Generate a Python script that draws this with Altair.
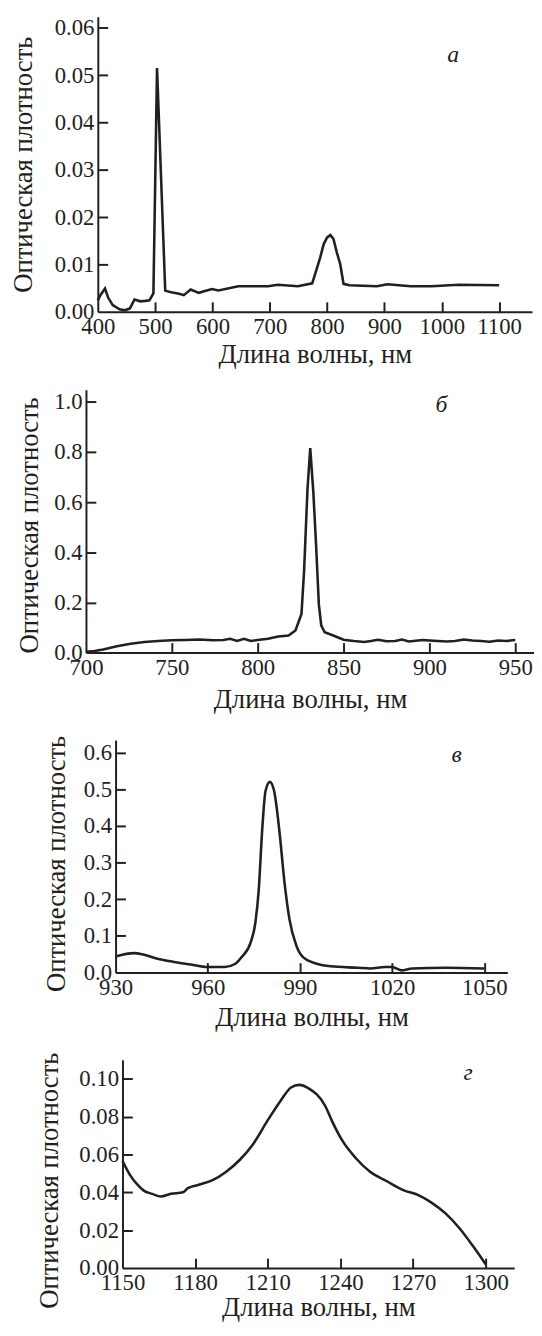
import altair as alt
import pandas as pd

FONT = "'Liberation Serif', 'Times New Roman', serif"
INK = "#231f20"
XTITLE = "Длина волны, нм"
YTITLE = "Оптическая плотность"

# ---- panel а ----
a_wl = [400, 405, 412.6, 418, 426, 438, 447, 456, 464, 474, 483, 490, 497, 503.3, 517.6, 528,
        541.7, 550, 562, 576, 599, 610.5, 645, 697, 714, 749, 774, 788, 794, 800, 805.6, 811,
        817, 822.8, 828.6, 839, 887, 905, 946, 982, 1030, 1100]
a_od = [0.0024, 0.0036, 0.0049, 0.0030, 0.0014, 0.0005, 0.0003, 0.0007, 0.0026, 0.0022, 0.0023,
        0.0024, 0.0039, 0.0515, 0.0045, 0.0041, 0.0038, 0.0035, 0.0047, 0.0040, 0.0048, 0.0045,
        0.0054, 0.0054, 0.0057, 0.0054, 0.0060, 0.0115, 0.0143, 0.0157, 0.0162, 0.0154, 0.0125,
        0.0101, 0.0059, 0.0056, 0.0054, 0.0058, 0.0054, 0.0054, 0.0057, 0.0056]
a_xlabels = [400, 500, 600, 700, 800, 900, 1000, 1100]
a_ylabels = [0.00, 0.01, 0.02, 0.03, 0.04, 0.05, 0.06]

# ---- panel б ----
b_wl = [700, 705, 710, 718, 726, 734, 742, 750, 758, 766, 774, 780, 784, 788, 792, 796, 800, 806,
        812, 818, 822, 825.5, 827, 829, 830.6, 832.4, 834, 835.6, 837, 839, 844, 850, 856, 862,
        866, 870, 875, 880, 884, 888, 892, 896, 900, 905, 910, 915, 920, 925, 930, 935, 940, 945, 950]
b_od = [0.003, 0.006, 0.012, 0.025, 0.035, 0.042, 0.046, 0.049, 0.050, 0.052, 0.049, 0.050, 0.055,
        0.046, 0.055, 0.046, 0.050, 0.055, 0.064, 0.068, 0.088, 0.154, 0.324, 0.652, 0.816, 0.640,
        0.430, 0.193, 0.108, 0.081, 0.068, 0.051, 0.046, 0.042, 0.046, 0.051, 0.045, 0.046, 0.052,
        0.044, 0.047, 0.050, 0.048, 0.046, 0.044, 0.046, 0.052, 0.048, 0.046, 0.043, 0.048, 0.046, 0.050]
b_xlabels = [700, 750, 800, 850, 900, 950]
b_ylabels = [0.0, 0.2, 0.4, 0.6, 0.8, 1.0]

# ---- panel в ----
c_wl = [930, 936, 939, 943, 949, 954.5, 960, 965.5, 969, 971, 974, 975.5, 976.6, 977.7, 978.8,
        980.2, 981.6, 983.3, 985, 986.6, 988.8, 991, 995.5, 1000, 1008.8, 1013, 1017.6, 1020,
        1023, 1026.5, 1037.6, 1050]
c_od = [0.044, 0.053, 0.049, 0.039, 0.029, 0.022, 0.015, 0.015, 0.024, 0.042, 0.083, 0.136, 0.226,
        0.387, 0.495, 0.520, 0.495, 0.387, 0.244, 0.145, 0.074, 0.042, 0.024, 0.017, 0.013, 0.011,
        0.015, 0.015, 0.006, 0.011, 0.013, 0.011]
c_xlabels = [930, 960, 990, 1020, 1050]
c_ylabels = [0.0, 0.1, 0.2, 0.3, 0.4, 0.5, 0.6]

# ---- panel г ----
d_wl = [1150, 1153, 1156, 1158.8, 1162.3, 1165.8, 1170, 1175, 1177, 1181.5, 1187, 1192.7, 1198.4,
        1204, 1209.7, 1215.4, 1219.6, 1223, 1226.7, 1233.8, 1236.6, 1240.8, 1246.5, 1252, 1259,
        1266, 1272.6, 1277.6, 1283.3, 1289, 1294.6, 1300]
d_od = [0.0567, 0.0494, 0.0443, 0.0409, 0.0392, 0.0378, 0.0392, 0.0400, 0.0422, 0.0440, 0.0463,
        0.0508, 0.0571, 0.0656, 0.0775, 0.0886, 0.0954, 0.0968, 0.0951, 0.0855, 0.0775, 0.0673,
        0.0579, 0.0511, 0.0460, 0.0412, 0.0383, 0.0346, 0.0290, 0.0213, 0.0119, 0.0020]
d_xlabels = [1150, 1180, 1210, 1240, 1270, 1300]
d_ylabels = [0.00, 0.02, 0.04, 0.06, 0.08, 0.10]

letters = ["а", "б", "в", "г"]
letter_wl = [1020, 907, 1041, 1292.7]
letter_od = [0.0542, 0.988, 0.593, 0.1033]

LABEL_FS = 23
TITLE_FS = 27


def spacer(w):
    return alt.Chart(pd.DataFrame({"v": [0]})).mark_point(opacity=0, size=0).encode(
        x=alt.X("v:Q", axis=None), y=alt.Y("v:Q", axis=None)
    ).properties(width=w, height=1)


def panel(wl, od, xdom, ydom, W, H, P, xlabels, ylabels, yfmt, letter, lwl, lod,
          ytitle_cx, ytitle_cy, xtitle_y, interp):
    df = pd.DataFrame({"wl": wl, "od": od})
    lab = pd.DataFrame({"wl": [lwl], "od": [lod], "t": [letter]})
    xs = alt.Scale(domain=xdom, nice=False, zero=False)
    ys = alt.Scale(domain=ydom, nice=False, zero=False)
    common = dict(labelFont=FONT, labelFontSize=LABEL_FS, labelColor=INK, labelFlush=False,
                  labelOverlap=False, grid=False, titleFont=FONT, titleFontSize=TITLE_FS,
                  titleFontWeight="normal", titleColor=INK, domainColor=INK, domainWidth=2)
    line = alt.Chart(df).mark_line(color=INK, strokeWidth=2.6, interpolate=interp).encode(
        x=alt.X("wl:Q", scale=xs, axis=alt.Axis(
            orient="bottom", values=xlabels, format="d", ticks=False, labelPadding=4,
            title=XTITLE, titleY=xtitle_y, titleBaseline="middle", titleAlign="center", **common)),
        y=alt.Y("od:Q", scale=ys, axis=alt.Axis(
            orient="left", values=ylabels, format=yfmt, ticks=False, labelPadding=4,
            title=YTITLE, titleX=ytitle_cx - P, titleY=ytitle_cy, titleBaseline="middle",
            titleAlign="center", titleAngle=270, **common)),
    )
    # inward-pointing ticks: second pair of axes folded onto the bottom/left edges
    inner_ticks_x = [v for v in xlabels if v != xdom[0]]
    inner_ticks_y = [v for v in ylabels if v != ydom[0]]
    txt = alt.Chart(lab).mark_text(font=FONT, fontSize=24, fontStyle="italic", color=INK).encode(
        x=alt.X("wl:Q", scale=xs, axis=alt.Axis(
            orient="top", offset=-H, values=inner_ticks_x, labels=False, domain=False,
            ticks=True, tickSize=10, tickWidth=2, tickColor=INK, grid=False, title=None)),
        y=alt.Y("od:Q", scale=ys, axis=alt.Axis(
            orient="right", offset=-W, values=inner_ticks_y, labels=False, domain=False,
            ticks=True, tickSize=10, tickWidth=2, tickColor=INK, grid=False, title=None)),
        text="t:N",
    )
    p = alt.layer(line, txt).resolve_axis(x="independent", y="independent").properties(
        width=W, height=H)
    # left spacer so that the y-axis title sits where it does in the figure
    return alt.hconcat(spacer(max(ytitle_cx - 8 - TITLE_FS / 2, 0.5)), p, spacing=0)


ra = panel(a_wl, a_od, [400, 1157.4], [0, 0.06236], 440, 299, 97.7, a_xlabels, a_ylabels, ".2f",
           letters[0], letter_wl[0], letter_od[0], 22.5, 149.5, 43.7, "linear")
rb = panel(b_wl, b_od, [700, 960.9], [0, 1.0485], 454, 266.3, 85, b_xlabels, b_ylabels, ".1f",
           letters[1], letter_wl[1], letter_od[1], 28, 137, 48.2, "linear")
rc = panel(c_wl, c_od, [930, 1057.5], [0, 0.634], 397, 235.6, 115, c_xlabels, c_ylabels, ".1f",
           letters[2], letter_wl[2], letter_od[2], 55, 125, 45.2, "monotone")
rd = panel(d_wl, d_od, [1150, 1311.8], [0, 0.11007], 397, 211, 122.3, d_xlabels, d_ylabels, ".2f",
           letters[3], letter_wl[3], letter_od[3], 48, 122, 40, "monotone")

chart = alt.vconcat(ra, rb, rc, rd, spacing=22).properties(
    padding={"left": 0, "top": 0, "right": 0, "bottom": 0},
).configure_view(stroke=None)

chart.save("out.html", embed_options={"renderer": "svg", "actions": False})
